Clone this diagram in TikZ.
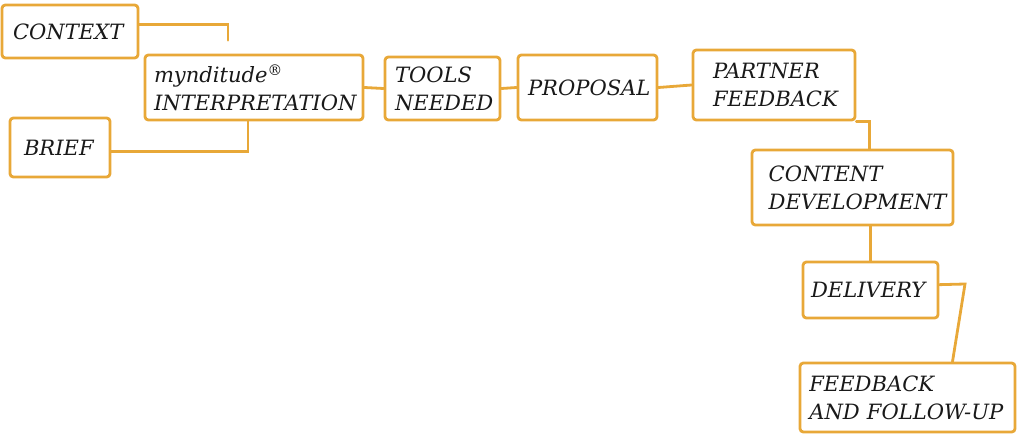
\documentclass[tikz,border=0pt]{standalone}
\usepackage{fontspec}
\setmainfont{DejaVu Serif}
\usetikzlibrary{calc}
\definecolor{gold}{HTML}{E8A838}
\begin{document}
\begin{tikzpicture}[x=0.75pt,y=-0.75pt,
  box/.style={draw=gold, line width=2.1pt, rounded corners=2.5pt, align=left,
    font=\itshape\fontsize{15.8}{21}\selectfont, inner ysep=0pt, text=black!90},
  link/.style={draw=gold, line width=2.1pt, line cap=round}]
\useasboundingbox (0,0) rectangle (1017,435);

\node[box, text width=85.5pt, inner xsep=8.25pt, minimum height=39.75pt] (context) at (70,31.5) {CONTEXT};
\node[box, text width=150pt, inner xsep=6.75pt, minimum height=48.75pt] (interp) at (254,87.5) {mynditude\textsuperscript{®}\\INTERPRETATION};
\node[box, text width=54pt, inner xsep=10.5pt, minimum height=44.25pt] (brief) at (60,147.5) {BRIEF};
\node[box, text width=71.25pt, inner xsep=7.5pt, minimum height=47.25pt] (tools) at (442.5,88.5) {TOOLS\\NEEDED};
\node[box, text width=89.25pt, inner xsep=7.5pt, minimum height=48.75pt] (proposal) at (587.5,87.5) {PROPOSAL};
\node[box, text width=91.5pt, inner xsep=15pt, minimum height=52.5pt] (partner) at (774,85) {PARTNER\\FEEDBACK};
\node[box, text width=125.75pt, inner xsep=12.5pt, minimum height=56.25pt] (content) at (852.5,187.5) {CONTENT\\DEVELOPMENT};
\node[box, text width=89.25pt, inner xsep=6pt, minimum height=42pt] (delivery) at (870.5,290) {DELIVERY};
\node[box, text width=147.25pt, inner xsep=7pt, minimum height=51.75pt] (feedback) at (907.5,397.5) {FEEDBACK\\\mbox{AND FOLLOW-UP}};

\coordinate (bend) at (965,284);

\draw[link] ([yshift=5pt]context.east) -| ([xshift=-19.5pt,yshift=10pt]interp.north);
\draw[link] ([yshift=-3pt]brief.east) -| ([xshift=-4.5pt]interp.south);
\draw[link] (interp.east) -- (tools.west);
\draw[link] (tools.east) -- (proposal.west);
\draw[link] (proposal.east) -- (partner.west);
\draw[link] (partner.south east) -| ([xshift=13pt]content.north);
\draw[link] (delivery.north |- content.south) -- (delivery.north);
\draw[link] ([yshift=4pt]delivery.east) -- (bend) -- ([xshift=33.75pt]feedback.north);
\end{tikzpicture}
\end{document}
